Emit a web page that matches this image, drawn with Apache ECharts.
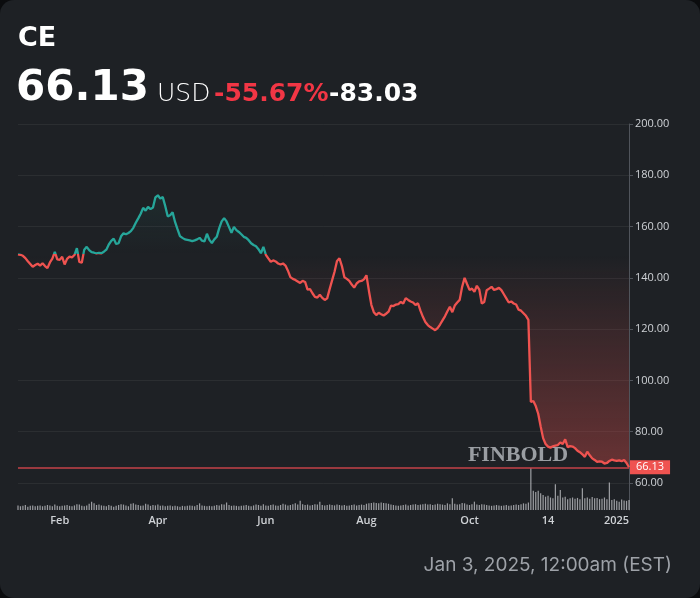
<!DOCTYPE html>
<html>
<head>
<meta charset="utf-8">
<script src="https://cdn.jsdelivr.net/npm/echarts@6/dist/echarts.min.js"></script>
<style>
html,body{margin:0;padding:0;background:#0b0c0e;}
#card{width:700px;height:598px;background:#1e2125;border-radius:14px;overflow:hidden;}
#c{width:700px;height:598px;}
</style>
</head>
<body>
<div id="card"><div id="c"></div></div>
<script>
// ---- header texts ----
const ticker = 'CE';
const lastPriceText = '66.13';
const currency = 'USD';
const changePct = '-55.67%';
const changeAbs = '-83.03';
const dateText = 'Jan 3, 2025, 12:00am (EST)';
const watermark = 'FINBOLD';

// ---- values ----
const lastPrice = 66.13;
const baseline = 149.16; // first close of the period

const holidays = ['2024-01-15','2024-02-19','2024-03-29','2024-05-27','2024-06-19','2024-07-04','2024-09-02','2024-11-28','2024-12-25','2025-01-01'];
const firstDay = '2024-01-08';
const lastDay = '2025-01-03';

const prices = [
149.2,149.0,148.6,147.7,146.5,145.4,144.3,145.0,145.5,144.8,
145.7,144.6,143.8,146.0,147.5,150.1,147.2,147.0,148.2,145.2,
147.4,148.3,148.0,148.9,151.6,146.2,145.9,151.0,152.1,150.8,
150.0,149.8,149.5,149.7,149.6,150.2,151.0,153.0,154.4,155.3,
153.2,153.5,156.2,157.4,157.0,157.5,158.2,159.5,161.5,163.2,
165.0,167.3,166.2,167.7,166.8,167.4,171.4,172.2,170.9,171.5,
168.0,164.0,164.4,165.6,161.8,159.0,156.3,155.6,155.0,154.8,
154.6,154.3,154.6,155.0,155.6,154.5,154.2,157.2,154.8,153.6,
155.0,156.0,159.4,162.0,163.3,162.0,159.8,157.6,159.9,158.6,
157.9,157.0,156.0,155.6,154.7,153.5,152.8,152.3,151.2,149.6,
152.1,149.0,147.6,146.3,146.8,146.4,145.6,145.2,145.6,144.8,
142.8,140.3,139.6,139.2,138.6,138.0,138.8,138.4,135.4,135.6,
134.0,132.6,132.3,133.4,132.2,131.4,132.0,135.6,139.0,142.4,
146.6,147.6,144.6,140.2,139.6,138.8,137.4,136.2,137.8,138.6,
138.8,139.4,141.0,135.0,129.5,126.6,125.5,126.4,125.8,125.3,
126.0,126.8,129.2,129.0,129.6,129.8,130.6,130.0,132.1,131.4,
130.8,130.4,129.4,130.1,127.2,124.8,122.8,121.6,120.8,120.2,
119.6,120.4,121.8,123.4,125.0,127.0,128.7,126.6,129.2,130.4,
131.4,136.5,140.0,137.6,135.3,135.8,134.6,136.9,135.4,130.0,
130.6,135.2,135.8,136.5,135.3,135.6,136.1,135.2,133.6,132.0,
130.4,130.8,130.0,129.6,127.6,127.2,126.2,125.2,123.6,91.6,
92.0,90.0,87.0,82.0,77.5,75.2,74.2,73.8,74.3,74.6,
74.8,75.8,75.2,77.0,74.0,74.4,74.2,73.6,72.6,72.0,
71.2,70.2,72.2,70.8,69.6,69.0,68.2,68.4,68.3,67.6,
67.8,68.6,69.1,68.8,68.6,68.8,68.5,69.0,67.8,66.13
];

// volume, millions of shares
const volumes = [
1.1,0.9,1.0,1.2,0.8,1.0,1.1,0.9,1.0,1.1,
0.9,1.0,1.2,1.1,0.9,1.3,1.0,0.9,1.0,1.1,
1.2,1.0,0.9,1.1,1.4,1.3,1.0,0.9,1.1,1.5,
2.0,1.6,1.2,1.3,1.1,1.0,0.9,1.2,1.0,0.8,
1.0,1.2,1.4,1.3,1.1,0.9,1.5,1.6,1.3,1.2,
1.0,1.1,1.5,1.3,1.0,1.2,1.1,1.3,1.0,1.1,
0.9,1.0,1.1,0.9,1.0,0.9,0.8,1.0,0.9,1.0,
1.1,1.0,0.9,1.2,1.6,1.1,1.0,0.9,1.0,0.9,
1.0,1.2,1.1,1.4,1.3,1.8,1.2,1.0,1.1,1.0,
0.9,1.0,1.1,1.2,1.0,0.9,1.1,1.3,1.2,1.0,
1.4,1.1,1.0,1.2,1.3,1.1,1.0,1.2,1.5,1.3,
1.1,1.2,1.4,1.6,1.3,2.2,1.4,1.2,1.3,1.1,
1.2,1.4,1.3,2.0,1.2,1.1,1.2,1.3,1.2,1.1,
1.3,1.2,1.1,1.2,1.0,1.1,1.2,1.3,1.1,1.2,
1.3,1.2,1.5,1.6,1.7,1.8,1.7,1.6,1.8,1.7,
1.6,1.5,1.3,1.2,1.1,1.0,1.1,1.2,1.3,1.1,
1.2,1.3,1.4,1.2,1.3,1.4,1.5,1.3,1.4,1.2,
1.3,1.5,1.4,1.3,1.2,1.6,1.4,2.8,1.5,1.3,
1.4,1.7,1.6,1.3,1.2,1.4,2.0,1.3,1.2,1.4,
1.3,1.2,1.1,1.0,1.1,1.2,1.1,1.0,1.1,1.2,
1.0,1.1,1.2,1.3,1.2,1.4,1.6,1.5,1.8,10.0,
4.6,4.3,4.6,4.0,3.6,3.2,3.4,3.0,2.8,6.2,
3.4,4.8,3.0,3.2,2.6,2.8,3.0,2.7,2.9,2.6,
5.2,2.8,3.0,2.7,3.1,2.8,2.9,2.6,2.7,3.0,
2.6,6.6,2.4,2.6,2.2,2.0,2.5,2.3,2.2,2.4
];

const tickDates = ['2024-02-01','2024-04-01','2024-06-03','2024-08-01','2024-10-01','2024-11-14','2025-01-02'];
const tickLabels = ['Feb','Apr','Jun','Aug','Oct','14','2025'];

const yMin = 60, yMax = 200, yInterval = 20;
const volMax = 12;

// ---- trading-day categories ----
function fmt(d){const m=d.getUTCMonth()+1, dd=d.getUTCDate();return d.getUTCFullYear()+'-'+(m<10?'0':'')+m+'-'+(dd<10?'0':'')+dd;}
const dates = [];
for (let d = new Date(firstDay+'T00:00:00Z'); fmt(d) <= lastDay; d.setUTCDate(d.getUTCDate()+1)) {
  const wd = d.getUTCDay(); const s = fmt(d);
  if (wd === 0 || wd === 6 || holidays.indexOf(s) >= 0) continue;
  dates.push(s);
}

const RED = '#ef5350', GREEN = '#26a69a', TXT = '#cfd2d6', AX = '#50545b';
const G0 = {left:18, right:71, top:124, bottom:115};
const G1 = {left:18, right:71, top:460, bottom:88};

const chart = echarts.init(document.getElementById('c'), null, {renderer:'canvas'});

function buildOption(lineGrad, areaGrad){
  return {
    backgroundColor:'transparent',
    animation:false,
    grid:[G0, G1],
    xAxis:[
      {type:'category', gridIndex:0, data:dates, boundaryGap:false, show:false},
      {type:'category', gridIndex:1, data:dates, boundaryGap:false,
        axisLine:{show:false}, axisTick:{show:false},
        axisLabel:{
          interval:function(i,v){return tickDates.indexOf(v)>=0;},
          formatter:function(v){const k=tickDates.indexOf(v);const t=tickLabels[k]; return k===tickLabels.length-1?'{r|'+t+'}':t;},
          color:TXT, fontSize:11, fontWeight:600, fontFamily:'Open Sans', margin:5,
          rich:{r:{color:TXT,fontSize:11,fontWeight:600,fontFamily:'Open Sans',padding:[0,20,0,0]}}
        },
        splitLine:{show:false}}
    ],
    yAxis:[
      {type:'value', gridIndex:0, position:'right', min:yMin, max:yMax, interval:yInterval,
        axisLine:{show:true, lineStyle:{color:AX}},
        axisTick:{show:true, length:4, lineStyle:{color:AX}},
        axisLabel:{color:TXT, fontSize:11, fontFamily:'Open Sans', margin:6, formatter:function(v){return v.toFixed(2);}},
        splitLine:{show:true, lineStyle:{color:'rgba(255,255,255,0.06)'}}},
      {type:'value', gridIndex:1, position:'right', min:0, max:volMax,
        axisLine:{show:true, lineStyle:{color:AX}}, axisTick:{show:false}, axisLabel:{show:false}, splitLine:{show:false}}
    ],
    series:[
      {type:'line', xAxisIndex:0, yAxisIndex:0, data:prices, symbol:'none', showSymbol:false, z:3,
        lineStyle:{width:2.3, color:lineGrad || RED}, itemStyle:{color:RED}, emphasis:{disabled:true},
        areaStyle:areaGrad ? {origin:baseline, color:areaGrad, opacity:1} : {opacity:0}},
      {type:'bar', xAxisIndex:1, yAxisIndex:1, data:volumes, barWidth:'50%', silent:true,
        itemStyle:{color:'rgba(208,210,214,0.7)'}},
      {type:'line', xAxisIndex:0, yAxisIndex:0, data:[], silent:true, z:5,
        itemStyle:{color:'#f23645'}, lineStyle:{color:'#f23645'},
        markLine:{symbol:'none', silent:true, animation:false,
          lineStyle:{color:'#e0484f', width:1.5, type:'solid', opacity:0.85},
          emphasis:{disabled:true},
          label:{show:true, position:'end', distance:1, formatter:lastPriceText, color:'#fff',
            backgroundColor:RED, padding:[2,6,1,6], fontSize:11, fontFamily:'Open Sans', opacity:1},
          data:[{yAxis:lastPrice}]}}
    ],
    graphic:[
      {type:'text', x:18, y:39, style:{text:ticker, font:'bold 27px "DejaVu Sans"', fill:'#ffffff', verticalAlign:'middle'}},
      {type:'text', x:16, y:89, style:{text:lastPriceText, font:'bold 42px "DejaVu Sans"', fill:'#ffffff', verticalAlign:'middle'}},
      {type:'text', x:157, y:94, style:{text:currency, font:'300 25px "DejaVu Sans"', fill:'#ffffff', verticalAlign:'middle'}},
      {type:'text', x:214, y:94, style:{text:changePct, font:'bold 25px "DejaVu Sans"', fill:'#f23645', verticalAlign:'middle'}},
      {type:'text', x:329, y:94, style:{text:changeAbs, font:'bold 25px "DejaVu Sans"', fill:'#ffffff', verticalAlign:'middle'}},
      {type:'text', x:518, y:455, z:10, style:{text:watermark, font:'bold 22px "Liberation Serif"', fill:'rgba(190,193,198,0.78)', align:'center', verticalAlign:'middle'}},
      {type:'text', x:672, y:565, style:{text:dateText, font:'19px Inter', fill:'#9ea2a8', align:'right', verticalAlign:'middle'}}
    ]
  };
}

chart.setOption(buildOption(null, null));
const yTop = chart.convertToPixel({yAxisIndex:0}, yMax);
const yBot = chart.convertToPixel({yAxisIndex:0}, yMin);
const yBase = chart.convertToPixel({yAxisIndex:0}, baseline);
const p = (yBase - yTop) / (yBot - yTop);
const lineGrad = new echarts.graphic.LinearGradient(0, yTop, 0, yBot, [
  {offset:0, color:GREEN}, {offset:p, color:GREEN},
  {offset:p, color:RED}, {offset:1, color:RED}
], true);
const areaGrad = new echarts.graphic.LinearGradient(0, yTop, 0, yBot, [
  {offset:0, color:'rgba(38,166,154,0.18)'},
  {offset:p, color:'rgba(38,166,154,0)'},
  {offset:p, color:'rgba(239,83,80,0)'},
  {offset:1, color:'rgba(239,83,80,0.38)'}
], true);
chart.setOption(buildOption(lineGrad, areaGrad), true);
</script>
</body>
</html>
